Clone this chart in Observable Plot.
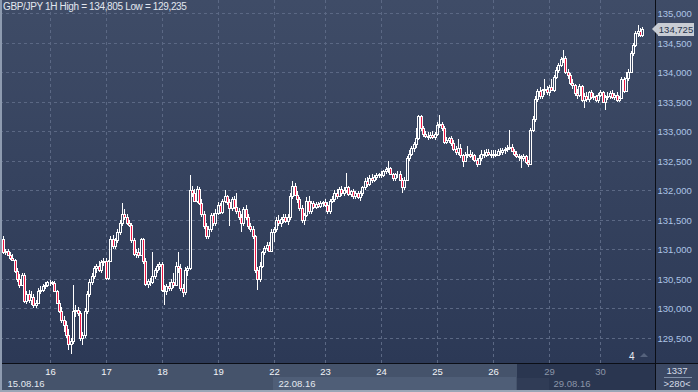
<!DOCTYPE html>
<html><head><meta charset="utf-8">
<script src="https://cdn.jsdelivr.net/npm/d3@7"></script>
<script src="https://cdn.jsdelivr.net/npm/@observablehq/plot@0.6"></script>
<style>
html,body{margin:0;padding:0;background:#2d3a57;}
#wrap{position:relative;width:698px;height:392px;overflow:hidden;font-family:"Liberation Sans",Arial,sans-serif;}
.abs{position:absolute;}
#bg{left:0;top:0;width:698px;height:363px;background:linear-gradient(#3f4c67,#2c3956);}
#bot{left:0;top:363px;width:655px;height:29px;background:#45536b;}
#botHi{left:273px;top:377px;width:243px;height:15px;background:#4f5e77;}
#botDark{left:517px;top:363px;width:138px;height:29px;background:#2a3650;}
#botDark2{left:517px;top:378px;width:32px;height:14px;background:#303c56;}
#rbot{left:656px;top:363px;width:42px;height:29px;background:#3b4863;}
#hline{left:0;top:363px;width:698px;height:1px;background:#0b0e16;}
#vline{left:655px;top:0;width:1px;height:392px;background:#0b0e16;}
#ledge{left:0;top:0;width:2px;height:392px;background:#8e9bb0;}
#bedge{left:0;top:390px;width:698px;height:2px;background:#9aa5b6;}
#title{left:3px;top:1px;font-size:10px;color:#e2e7ef;letter-spacing:-0.35px;white-space:nowrap;}
#tag{left:652px;height:13px;width:42px;}
#tag .box{position:absolute;left:6px;top:0;width:36px;height:13px;background:#c9cdd4;color:#28344c;font-size:9.5px;line-height:13px;text-align:center;}
#tag .tri{position:absolute;left:0;top:0;width:0;height:0;border-top:6.5px solid transparent;border-bottom:6.5px solid transparent;border-right:6px solid #c9cdd4;}
#four{left:629px;top:351px;font-size:10px;color:#e8ecf2;}
#tri4{left:640px;top:353px;width:0;height:0;border-left:4px solid transparent;border-right:4px solid transparent;border-bottom:4px solid #55627c;}
#cnt{left:656px;top:365px;width:42px;text-align:center;font-size:9.5px;color:#d5dce8;}
#cntl{left:664px;top:377px;width:28px;height:1px;background:#8090a8;}
#vis{left:656px;top:378px;width:42px;text-align:center;font-size:9.5px;color:#d5dce8;}
svg{position:absolute;left:0;top:0;}
</style></head>
<body>
<div id="wrap">
  <div class="abs" id="bg"></div>
  <div class="abs" id="bot"></div>
  <div class="abs" id="botHi"></div>
  <div class="abs" id="botDark"></div>
  <div class="abs" id="botDark2"></div>
  <div class="abs" id="rbot"></div>
</div>
<script>
const dayLabels = ["16","17","18","19","22","23","24","25","26","29","30"];
const dayStart  = [20,44,68,92,116,138,162,186,210,234,256];
const weekLabels = ["15.08.16","22.08.16","29.08.16"];
const weekStart  = [0,116,234];
const yTicks = [129.5,130,130.5,131,131.5,132,132.5,133,133.5,134,134.5,135];
const titleText = "GBP/JPY 1H High = 134,805 Low = 129,235";
const lastPrice = 134.725;
const barCount = "1337";
const visibleBars = ">280<";
const cornerNote = "4";

const open = [
131.18,130.95,130.97,130.9,130.85,130.82,130.63,130.5,130.4,130.56,130.12,130.25,130.15,130.2,130.05,130.1,130.3,130.32,130.38,130.4,
130.44,130.45,130.43,130.3,130.1,129.95,129.8,129.72,129.55,129.4,129.45,129.95,129.98,129.93,129.5,129.55,129.95,130.25,130.45,130.55,130.68,130.72,130.65,130.78,
130.8,130.52,130.8,131.18,131.05,131.15,131.3,131.45,131.6,131.55,131.45,131.42,131.15,130.92,130.95,130.9,131.17,130.8,130.42,130.47,130.45,130.55,130.65,130.72,
130.75,130.32,130.3,130.38,130.35,130.45,130.4,130.72,130.68,130.35,130.28,130.65,130.68,132.0,131.95,131.82,132.02,131.78,131.6,131.4,131.22,131.35,131.58,131.45,
131.62,131.75,131.63,131.82,131.9,131.8,131.7,131.85,131.72,131.65,131.55,131.45,131.68,131.55,131.4,131.35,131.22,130.65,130.5,130.72,130.95,131.02,131.08,130.98,
131.3,131.35,131.5,131.45,131.52,131.55,131.48,131.55,131.9,132.08,131.92,131.85,131.7,131.5,131.58,131.82,131.65,131.78,131.72,131.76,131.74,131.78,
131.8,131.75,131.65,131.82,131.85,131.95,131.9,132.02,131.95,132.0,132.05,131.93,131.98,131.9,131.95,131.88,131.95,132.05,132.15,132.1,132.2,132.18,132.22,132.25,
132.28,132.25,132.32,132.36,132.38,132.27,132.2,132.27,132.28,132.18,132.05,132.18,132.55,132.62,132.72,132.78,132.88,133.25,133.05,132.95,132.92,132.9,132.94,132.9,
132.95,133.1,133.12,133.05,132.82,132.85,132.88,132.8,132.7,132.65,132.72,132.6,132.5,132.6,132.62,132.58,132.6,132.52,132.45,132.55,132.62,132.6,132.65,132.62,
132.6,132.62,132.6,132.66,132.64,132.68,132.7,132.72,132.74,132.66,132.62,132.58,132.56,132.54,132.58,132.47,132.45,133.02,133.2,133.55,133.68,133.6,133.7,133.72,
133.66,133.75,133.7,133.92,134.04,134.12,134.22,134.24,134.0,133.95,133.82,133.78,133.65,133.62,133.76,133.52,133.6,133.55,133.66,133.58,133.6,133.52,
133.62,133.66,133.5,133.58,133.6,133.65,133.58,133.62,133.53,133.56,133.88,133.68,133.9,134.0,134.32,134.46,134.66,134.7,134.63
];
const high = [
131.22,131.0,131.0,130.95,130.92,130.84,130.68,130.58,130.6,130.6,130.3,130.32,130.3,130.25,130.15,130.35,130.38,130.42,130.45,130.47,
130.48,130.47,130.46,130.32,130.15,130.02,129.88,129.78,129.65,129.5,130.4,130.05,130.02,129.95,129.6,130.0,130.3,130.5,130.6,130.72,130.75,130.8,130.82,130.85,
130.85,130.82,131.22,131.25,131.2,131.35,131.5,131.79,131.68,131.6,131.5,131.45,131.2,131.0,131.02,131.2,131.2,130.85,130.5,130.52,130.95,130.68,130.75,130.78,
130.78,130.4,130.42,130.45,130.5,130.6,130.78,130.95,130.75,130.42,130.7,130.72,132.26,132.08,132.02,132.08,132.05,131.85,131.65,131.45,131.4,131.62,131.62,131.68,
131.8,131.78,131.85,132.0,131.92,131.85,131.88,131.9,131.95,131.7,131.6,131.72,131.75,131.6,131.45,131.4,131.25,130.7,130.78,130.98,131.05,131.12,131.12,131.35,
131.38,131.55,131.58,131.55,131.6,131.6,131.6,131.95,132.16,132.12,131.98,131.88,131.75,131.62,131.88,131.9,131.82,131.82,131.8,131.8,131.82,131.82,
131.85,131.8,131.85,131.9,132.0,132.02,132.06,132.08,132.05,132.3,132.08,132.0,132.02,131.98,131.98,131.98,132.08,132.2,132.22,132.25,132.27,132.26,132.3,132.3,
132.32,132.35,132.4,132.5,132.4,132.3,132.3,132.32,132.32,132.2,132.22,132.58,132.68,132.75,132.82,133.05,133.28,133.27,133.08,133.0,132.98,132.98,133.0,132.98,
133.15,133.27,133.16,133.08,132.9,132.9,132.92,132.85,132.75,132.87,132.78,132.62,132.65,132.75,132.68,132.65,132.62,132.55,132.6,132.68,132.68,132.7,132.7,132.68,
132.68,132.68,132.7,132.72,132.72,132.74,132.76,133.02,132.78,132.7,132.66,132.62,132.6,132.62,132.6,132.52,133.05,133.25,133.6,133.72,133.75,133.72,133.88,133.76,
133.78,133.88,133.95,134.08,134.15,134.26,134.37,134.27,134.05,133.98,133.88,133.8,133.72,133.8,133.78,133.65,133.66,133.68,133.7,133.65,133.62,133.65,
133.7,133.68,133.62,133.66,133.68,133.7,133.65,133.66,133.6,133.92,133.92,134.0,134.05,134.36,134.5,134.7,134.805,134.74,134.76
];
const low = [
130.92,130.9,130.88,130.82,130.8,130.6,130.45,130.35,130.38,130.1,130.08,130.1,130.05,130.0,130.0,130.08,130.25,130.28,130.33,130.36,
130.38,130.4,130.28,130.08,129.92,129.75,129.6,129.5,129.3,129.235,129.4,129.85,129.88,129.45,129.38,129.5,129.9,130.2,130.4,130.5,130.6,130.62,130.6,130.72,
130.48,130.48,130.78,131.0,131.0,131.1,131.25,131.4,131.5,131.42,131.38,131.1,130.88,130.85,130.85,130.88,130.75,130.38,130.35,130.38,130.42,130.5,130.6,130.65,
130.28,130.05,130.22,130.3,130.3,130.35,130.38,130.6,130.3,130.2,130.22,130.55,130.65,131.88,131.8,131.78,131.75,131.55,131.35,131.18,131.18,131.3,131.4,131.4,
131.58,131.6,131.6,131.78,131.75,131.4,131.65,131.68,131.6,131.5,131.3,131.4,131.5,131.35,131.3,131.18,130.6,130.32,130.45,130.68,130.9,130.98,130.95,130.95,
131.13,131.3,131.4,131.38,131.45,131.45,131.42,131.5,131.85,131.9,131.78,131.65,131.45,131.42,131.55,131.6,131.6,131.68,131.68,131.7,131.7,131.72,
131.72,131.6,131.6,131.78,131.8,131.85,131.88,131.9,131.9,131.95,131.9,131.88,131.85,131.85,131.85,131.82,131.9,132.0,132.05,132.08,132.12,132.14,132.18,132.2,
132.2,132.22,132.28,132.3,132.25,132.15,132.15,132.2,132.15,131.95,132.0,132.15,132.5,132.58,132.65,132.72,132.85,133.0,132.9,132.88,132.85,132.86,132.86,132.85,
132.92,133.05,133.0,132.78,132.78,132.8,132.75,132.66,132.6,132.6,132.55,132.4,132.48,132.55,132.55,132.52,132.48,132.4,132.42,132.5,132.55,132.56,132.58,132.55,
132.55,132.56,132.58,132.6,132.6,132.62,132.64,132.68,132.64,132.58,132.55,132.5,132.38,132.5,132.45,132.4,132.42,132.98,133.15,133.5,133.55,133.55,133.62,133.62,
133.6,133.68,133.66,133.88,133.98,134.08,134.15,133.96,133.88,133.78,133.72,133.6,133.55,133.58,133.5,133.4,133.5,133.5,133.55,133.52,133.5,133.48,
133.58,133.48,133.35,133.52,133.55,133.55,133.52,133.5,133.5,133.55,133.65,133.66,133.85,133.98,134.28,134.42,134.6,134.6,134.6
];
const close = [
130.95,130.97,130.9,130.85,130.82,130.63,130.5,130.4,130.56,130.12,130.25,130.15,130.2,130.05,130.1,130.3,130.32,130.38,130.4,130.44,
130.45,130.43,130.3,130.1,129.95,129.8,129.72,129.55,129.4,129.45,129.95,129.98,129.93,129.5,129.55,129.95,130.25,130.45,130.55,130.68,130.72,130.65,130.78,130.8,
130.52,130.8,131.18,131.05,131.15,131.3,131.45,131.6,131.55,131.45,131.42,131.15,130.92,130.95,130.9,131.17,130.8,130.42,130.47,130.45,130.55,130.65,130.72,130.75,
130.32,130.3,130.38,130.35,130.45,130.4,130.72,130.68,130.35,130.28,130.65,130.68,132.0,131.95,131.82,132.02,131.78,131.6,131.4,131.22,131.35,131.58,131.45,131.62,
131.75,131.63,131.82,131.9,131.8,131.7,131.85,131.72,131.65,131.55,131.45,131.68,131.55,131.4,131.35,131.22,130.65,130.5,130.72,130.95,131.02,131.08,130.98,131.3,
131.35,131.5,131.45,131.52,131.55,131.48,131.55,131.9,132.08,131.92,131.85,131.7,131.5,131.58,131.82,131.65,131.78,131.72,131.76,131.74,131.78,131.8,
131.75,131.65,131.82,131.85,131.95,131.9,132.02,131.95,132.0,132.05,131.93,131.98,131.9,131.95,131.88,131.95,132.05,132.15,132.1,132.2,132.18,132.22,132.25,132.28,
132.25,132.32,132.36,132.38,132.27,132.2,132.27,132.28,132.18,132.05,132.18,132.55,132.62,132.72,132.78,132.88,133.25,133.05,132.95,132.92,132.9,132.94,132.9,132.95,
133.1,133.12,133.05,132.82,132.85,132.88,132.8,132.7,132.65,132.72,132.6,132.5,132.6,132.62,132.58,132.6,132.52,132.45,132.55,132.62,132.6,132.65,132.62,132.6,
132.62,132.6,132.66,132.64,132.68,132.7,132.72,132.74,132.66,132.62,132.58,132.56,132.54,132.58,132.47,132.45,133.02,133.2,133.55,133.68,133.6,133.7,133.72,133.66,
133.75,133.7,133.92,134.04,134.12,134.22,134.24,134.0,133.95,133.82,133.78,133.65,133.62,133.76,133.52,133.6,133.55,133.66,133.58,133.6,133.52,133.62,
133.66,133.5,133.58,133.6,133.65,133.58,133.62,133.53,133.56,133.88,133.68,133.9,134.0,134.32,134.46,134.66,134.7,134.63,134.725
];

const candles = close.map((c, i) => ({i, o: open[i], h: high[i], l: low[i], c}));
const days = dayLabels.map((t, k) => ({t, i: dayStart[k]}));
const weeks = weekLabels.map((t, k) => ({t, i: weekStart[k]}));
const PX = 280.29 / 654; // index units per pixel
const scrollStart = 234;
const fmtY = v => v.toFixed(3).replace(".", ",");

const plot = Plot.plot({
  width: 698, height: 392,
  marginLeft: 0, marginRight: 44, marginTop: 0, marginBottom: 29,
  x: {domain: [-1.29, 279.0], round: true, axis: null},
  y: {domain: [135 - 350 / 59.0909, 135 + 13 / 59.0909], round: true, axis: null},
  style: {background: "transparent", fontFamily: "'Liberation Sans', Arial, sans-serif", overflow: "visible"},
  marks: [
    Plot.ruleY(yTicks, {stroke: "#5b6884", strokeDasharray: "3,3", shapeRendering: "crispEdges"}),
    Plot.ruleX(dayStart, {stroke: "#5b6884", strokeDasharray: "3,3", shapeRendering: "crispEdges"}),
    Plot.ruleX(candles, {x: "i", y1: "h", y2: d => Math.max(d.o, d.c), stroke: "#ffffff", shapeRendering: "crispEdges"}),
    Plot.ruleX(candles, {x: "i", y1: d => Math.min(d.o, d.c), y2: "l", stroke: "#ffffff", shapeRendering: "crispEdges"}),
    Plot.rect(candles, {
      x1: d => d.i - PX, x2: d => d.i + PX,
      y1: "o", y2: "c",
      fill: d => d.c < d.o ? "#ee1744" : "none",
      stroke: "#ffffff", strokeWidth: 1, shapeRendering: "crispEdges"
    }),
    Plot.axisY(yTicks, {anchor: "right", tickSize: 0, tickPadding: 3, tickFormat: fmtY, fill: "#adc4e6", fontSize: 9.5}),
    Plot.text(days, {x: "i", text: "t", frameAnchor: "bottom", dy: 11, fontSize: 9.5,
      fill: d => d.i >= scrollStart ? "#8a95a8" : "#f2f4f8"}),
    Plot.text(weeks, {x: "i", text: "t", frameAnchor: "bottom", dy: 23, dx: 4, textAnchor: "start", fontSize: 9.5,
      fill: d => d.i >= scrollStart ? "#8a95a8" : "#e4e9f0"})
  ]
});

const wrap = document.getElementById("wrap");
wrap.appendChild(plot);
const add = (id, html) => { const d = document.createElement("div"); d.className = "abs"; d.id = id; if (html != null) d.innerHTML = html; wrap.appendChild(d); return d; };
add("hline"); add("vline"); add("ledge"); add("bedge");
add("title").textContent = titleText;
const ty = plot.scale("y").apply(lastPrice);
const tag = add("tag", '<div class="tri"></div><div class="box"></div>');
tag.style.top = (ty - 6.5) + "px";
tag.querySelector(".box").textContent = fmtY(lastPrice);
add("four").textContent = cornerNote;
add("tri4");
add("cnt").textContent = barCount;
add("cntl");
add("vis").textContent = visibleBars;
</script>
</body></html>
